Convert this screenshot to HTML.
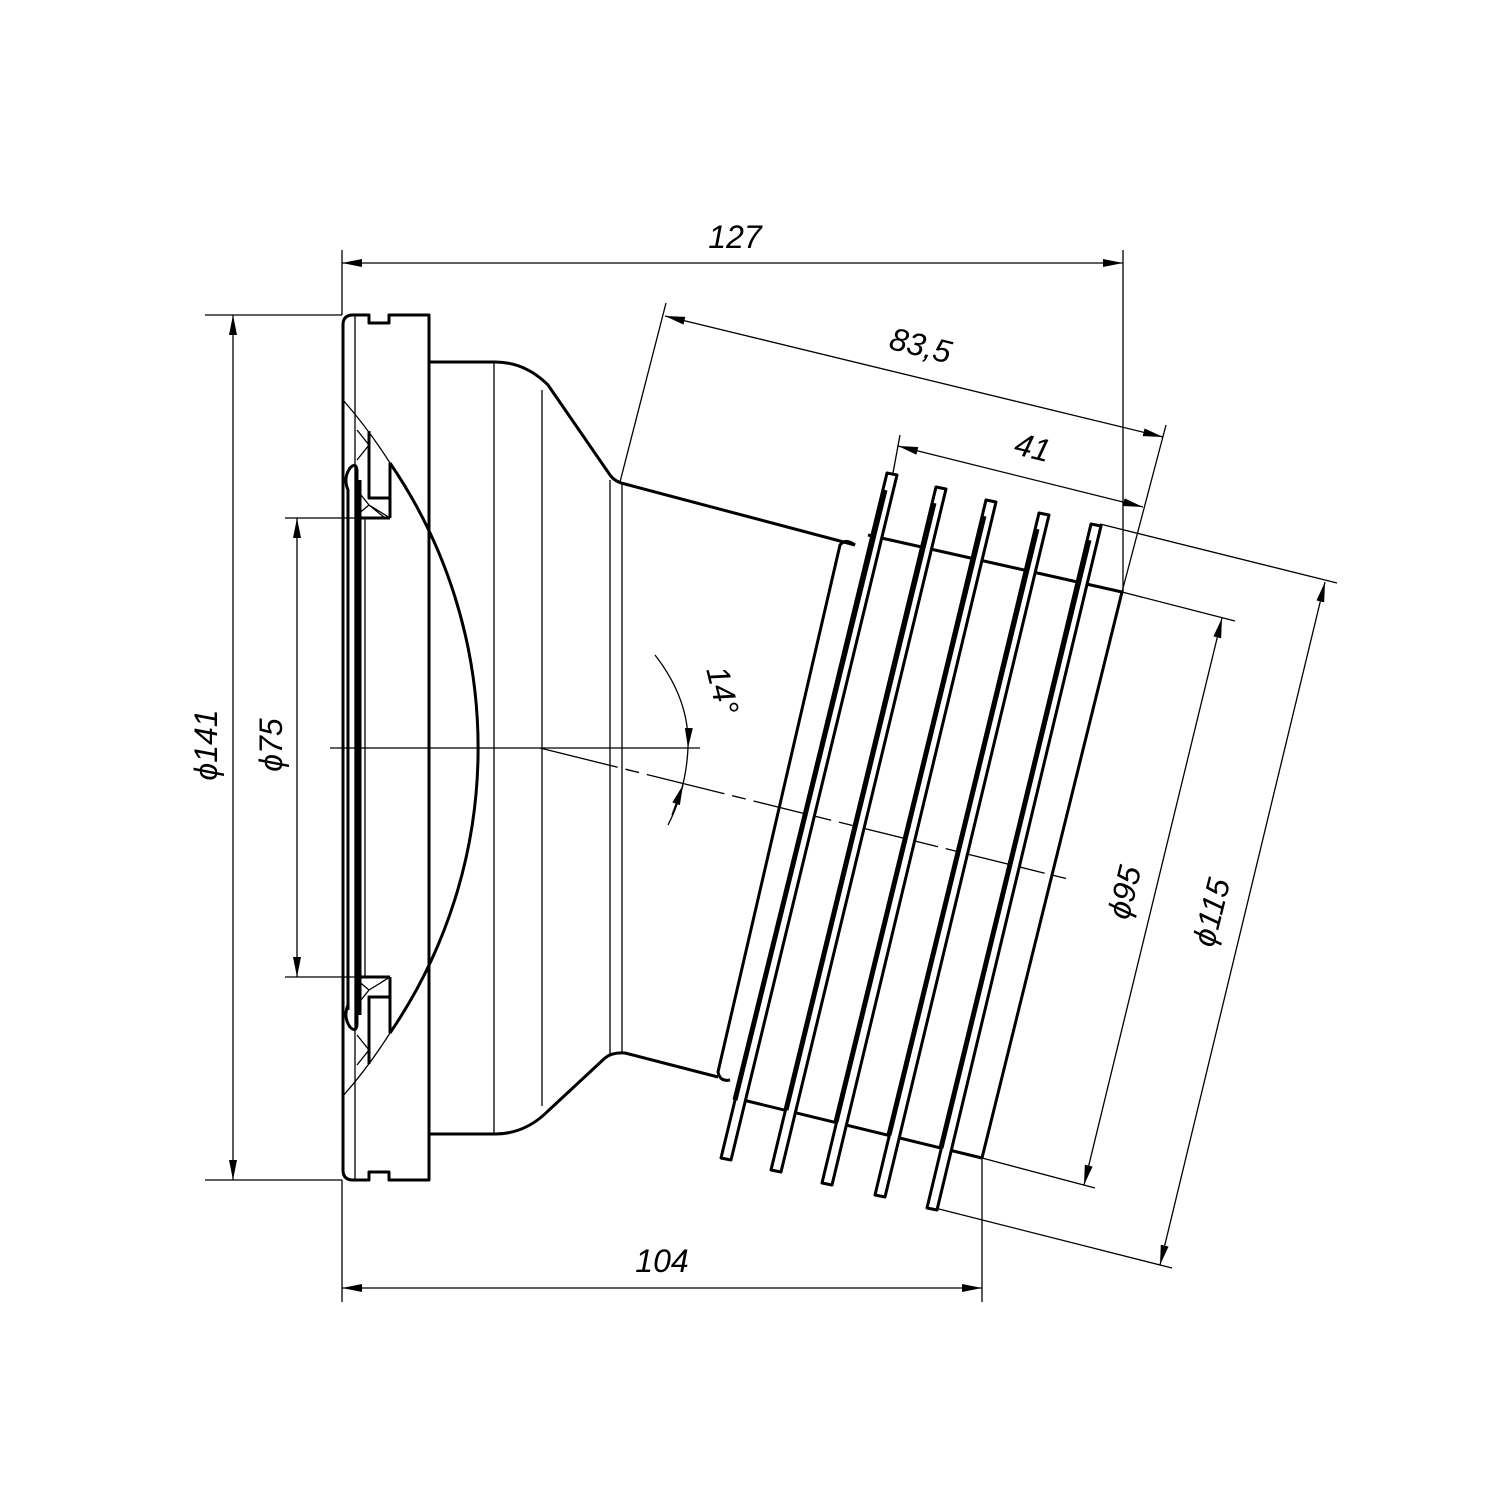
<!DOCTYPE html>
<html><head><meta charset="utf-8"><style>html,body{margin:0;padding:0;background:#fff}svg{display:block}text{font-family:"Liberation Sans",sans-serif;font-style:italic;font-size:32px;fill:#000}</style></head><body>
<svg width="1500" height="1500" viewBox="0 0 1500 1500" xmlns="http://www.w3.org/2000/svg">
<defs>
<marker id="a" viewBox="0 0 20 8" refX="20" refY="4" markerWidth="20" markerHeight="8" markerUnits="userSpaceOnUse" orient="auto-start-reverse"><path d="M0,0 L20,4 L0,8 z" fill="#000"/></marker>
</defs>
<g fill="none" stroke="#000">
<!-- thin lines -->
<g stroke-width="1.3">
<line x1="342" y1="250" x2="342" y2="315"/>
<line x1="1123" y1="250" x2="1123" y2="592"/>
<line x1="342" y1="263" x2="1123" y2="263" marker-start="url(#a)" marker-end="url(#a)"/>
<line x1="342" y1="1180" x2="342" y2="1302"/>
<line x1="982" y1="1158" x2="982" y2="1302"/>
<line x1="342" y1="1288" x2="982" y2="1288" marker-start="url(#a)" marker-end="url(#a)"/>
<line x1="205" y1="315" x2="342" y2="315"/>
<line x1="205" y1="1180" x2="342" y2="1180"/>
<line x1="233" y1="315" x2="233" y2="1180" marker-start="url(#a)" marker-end="url(#a)"/>
<line x1="285" y1="518" x2="360" y2="518"/>
<line x1="285" y1="977" x2="360" y2="977"/>
<line x1="297" y1="518" x2="297" y2="977" marker-start="url(#a)" marker-end="url(#a)"/>
<!-- 83.5 -->
<line x1="666" y1="303" x2="620" y2="482"/>
<line x1="1166" y1="425" x2="1122" y2="592"/>
<line x1="665" y1="316" x2="1163" y2="437" marker-start="url(#a)" marker-end="url(#a)"/>
<!-- 41 -->
<line x1="900" y1="435" x2="893" y2="473"/>
<line x1="898" y1="446" x2="1143" y2="507" marker-start="url(#a)" marker-end="url(#a)"/>
<!-- phi95 -->
<line x1="1122" y1="592" x2="1235" y2="621"/>
<line x1="982" y1="1158" x2="1095" y2="1188"/>
<line x1="1222" y1="618" x2="1084" y2="1185" marker-start="url(#a)" marker-end="url(#a)"/>
<!-- phi115 -->
<line x1="1100" y1="524" x2="1337" y2="583"/>
<line x1="935" y1="1208" x2="1172" y2="1268"/>
<line x1="1325" y1="582" x2="1160" y2="1265" marker-start="url(#a)" marker-end="url(#a)"/>
<!-- centerlines -->
<line x1="330" y1="748" x2="700" y2="748"/>
<line x1="540" y1="748" x2="1072" y2="880" stroke-dasharray="80,8,14,8"/>
<path d="M655,655 Q690,700 688,748" marker-end="url(#a)"/>
<path d="M688,748 Q686,790 668,825" />
<line x1="672" y1="815" x2="683" y2="785" marker-end="url(#a)"/>
<!-- body thin lines -->
<line x1="494" y1="362" x2="494" y2="1134"/>
<line x1="542" y1="390" x2="542" y2="1106"/>
<line x1="610" y1="480" x2="610" y2="1056"/>
<line x1="622" y1="484" x2="622" y2="1052"/>
<line x1="355" y1="315" x2="355" y2="1180"/>
<line x1="365" y1="518" x2="365" y2="977"/>
<path d="M343,400 A505,505 0 0 1 390,463"/>
<path d="M343,1096 A505,505 0 0 0 390,1033"/>
<!-- seal hatch -->
<path d="M357,430 L369,445 L357,460 M369,445 L357,430 M357,490 L369,505 L357,515 M369,505 L390,518 M369,505 L385,518"/>
<path d="M357,1065 L369,1050 L357,1035 M357,1005 L369,990 L357,980 M369,990 L390,977"/>
</g>
<!-- thick outlines -->
<g stroke-width="3" stroke-linejoin="round">
<path d="M343,1170 L343,325 Q343,315 353,315 L369,315 L369,323 L389,323 L389,315 L429,315 L429,1180 L389,1180 L389,1172 L369,1172 L369,1180 L353,1180 Q343,1180 343,1170 z"/>
<path d="M429,362 L495,362 Q525,362 548,385 L610,475 Q615,482 625,484 L855,545"/>
<path d="M429,1134 L495,1134 Q525,1134 548,1111 L605,1058 Q612,1052 625,1053 L718,1077"/>
<path d="M390,463 A505,505 0 0 1 390,1033"/>
<line x1="390" y1="463" x2="390" y2="518"/>
<line x1="390" y1="977" x2="390" y2="1033"/>
<path d="M369,431 L369,498 L390,498 M369,1064 L369,997 L390,997"/>
<path d="M348,1010 L348,490 Q343,478 350,468 Q356,462 357,470 L357,1025 Q356,1033 350,1027 Q343,1017 348,1005"/>
<line x1="360" y1="480" x2="360" y2="1015"/>
<line x1="357" y1="518" x2="390" y2="518"/>
<line x1="357" y1="977" x2="390" y2="977"/>
<!-- collar -->
<path d="M855,545 Q845,538 840,545 L718,1072 Q720,1082 730,1080"/>
<!-- pipe lines between ribs -->
<path d="M868,535 L1122,592"/>
<path d="M743,1100 L982,1158"/>
<line x1="1122" y1="592" x2="982" y2="1158"/>
<!-- ribs -->
<g fill="#fff">
<path d="M887,473 L897,475 L731,1160 L721,1158 z"/>
<path d="M936,487 L946,489 L781,1172 L771,1170 z"/>
<path d="M986,500 L996,502 L832,1185 L822,1183 z"/>
<path d="M1039,513 L1049,515 L885,1197 L875,1195 z"/>
<path d="M1091,524 L1101,526 L937,1210 L927,1208 z"/>
</g>
</g>
<g stroke-width="5" fill="none" stroke="#000">
<line x1="885" y1="490" x2="735" y2="1100"/>
<line x1="934" y1="503" x2="786" y2="1110"/>
<line x1="984" y1="516" x2="836" y2="1122"/>
<line x1="1037" y1="529" x2="889" y2="1135"/>
<line x1="1089" y1="540" x2="941" y2="1148"/>
</g>
</g>
<text x="735" y="248" text-anchor="middle">127</text>
<text x="662" y="1272" text-anchor="middle">104</text>
<text transform="translate(918,356) rotate(14)" text-anchor="middle">83,5</text>
<text transform="translate(1030,458) rotate(14)" text-anchor="middle">41</text>
<text transform="translate(712,693) rotate(76)" text-anchor="middle">14°</text>
<text transform="translate(217,745) rotate(-90)" text-anchor="middle">ϕ141</text>
<text transform="translate(282,745) rotate(-90)" text-anchor="middle">ϕ75</text>
<text transform="translate(1135,895) rotate(-76)" text-anchor="middle">ϕ95</text>
<text transform="translate(1222,915) rotate(-76)" text-anchor="middle">ϕ115</text>
</svg>
</body></html>
